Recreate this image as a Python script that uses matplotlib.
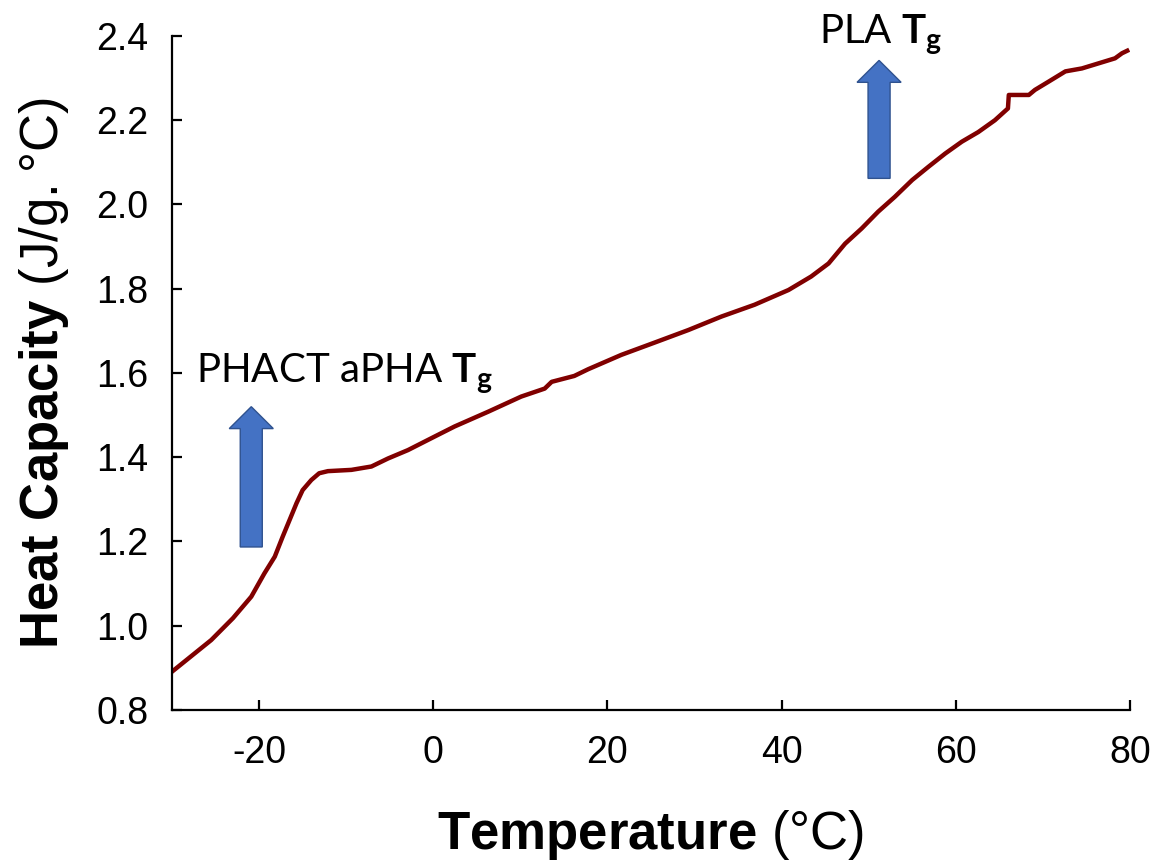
import matplotlib.pyplot as plt
from matplotlib.patches import FancyArrow

plt.rcParams['mathtext.fontset'] = 'custom'
plt.rcParams['mathtext.rm'] = 'Liberation Sans'
plt.rcParams['mathtext.sf'] = 'Lato:bold'
plt.rcParams['axes.unicode_minus'] = False

# DSC trace, heating scan
temp = [-30.0, -25.5, -23.0, -20.9, -19.4, -18.2, -17.3, -16.5, -15.7, -15.0,
        -14.0, -13.1, -12.1, -9.4, -7.1, -5.2, -2.9, 0.15, 2.45, 6.3, 10.1,
        12.8, 13.6, 16.2, 17.8, 21.6, 25.4, 29.3, 33.1, 36.9, 40.8, 43.4, 45.4,
        47.3, 49.2, 51.1, 53.0, 55.0, 56.9, 58.8, 60.7, 62.6, 64.5, 66.0, 66.1,
        68.4, 69.1, 70.7, 72.6, 74.5, 76.4, 78.3, 79.1, 79.7]
heat_cap = [0.891, 0.966, 1.018, 1.069, 1.124, 1.164, 1.211, 1.251, 1.291, 1.322,
            1.346, 1.362, 1.367, 1.370, 1.378, 1.397, 1.417, 1.449, 1.473, 1.508,
            1.544, 1.563, 1.579, 1.593, 1.609, 1.643, 1.672, 1.702, 1.734, 1.762,
            1.797, 1.829, 1.860, 1.907, 1.943, 1.983, 2.018, 2.058, 2.090, 2.121,
            2.149, 2.172, 2.200, 2.228, 2.260, 2.260, 2.272, 2.292, 2.316, 2.323,
            2.335, 2.347, 2.359, 2.365]

x_ticks = [-20, 0, 20, 40, 60, 80]
y_ticks = [0.8, 1.0, 1.2, 1.4, 1.6, 1.8, 2.0, 2.2, 2.4]

# transition markers: (x, arrow bottom, arrow tip, label, label x, label y)
markers = [(-20.9, 1.187, 1.520, 'PHACT aPHA $\\mathsf{T}_\\mathsf{g}$', -27.3, 1.58),
           (51.2, 2.062, 2.342, 'PLA $\\mathsf{T}_\\mathsf{g}$', 44.3, 2.385)]

fig = plt.figure(figsize=(11.6, 8.65), dpi=100)
ax = fig.add_axes([0.1483, 0.1792, 0.8257, 0.7792])

ax.plot(temp, heat_cap, color='#800000', lw=3.2, solid_joinstyle='round')

for x, y0, y1, label, tx, ty in markers:
    arr = FancyArrow(x, y0, 0, y1 - y0, width=2.53, head_width=5.06,
                     head_length=0.052, length_includes_head=True,
                     facecolor='#4472C4', edgecolor='#2F528F', lw=1.0,
                     clip_on=False, zorder=3)
    ax.add_patch(arr)
    ax.text(tx, ty, label, family='Lato', fontsize=29, ha='left',
            va='baseline', clip_on=False)

ax.set_xlim(-30, 80)
ax.set_ylim(0.8, 2.4)
ax.set_xticks(x_ticks)
ax.set_yticks(y_ticks)
ax.set_yticklabels([f'{v:.1f}' for v in y_ticks])

for side in ['top', 'right']:
    ax.spines[side].set_visible(False)
for side in ['left', 'bottom']:
    ax.spines[side].set_linewidth(1.6)

ax.tick_params(direction='in', length=7, width=1.6, labelsize=27)
ax.tick_params(axis='x', pad=18)
ax.tick_params(axis='y', pad=17)
for lbl in ax.get_xticklabels() + ax.get_yticklabels():
    lbl.set_family('Liberation Sans')

ax.set_xlabel('Temperature $\\mathrm{(°C)}$', family='Liberation Sans',
              fontweight='bold', fontsize=38, labelpad=27)
ax.set_ylabel('Heat Capacity $\\mathrm{(J/g.°C)}$', family='Liberation Sans',
              fontweight='bold', fontsize=38, labelpad=18)

fig.savefig('out.png', dpi=100)
